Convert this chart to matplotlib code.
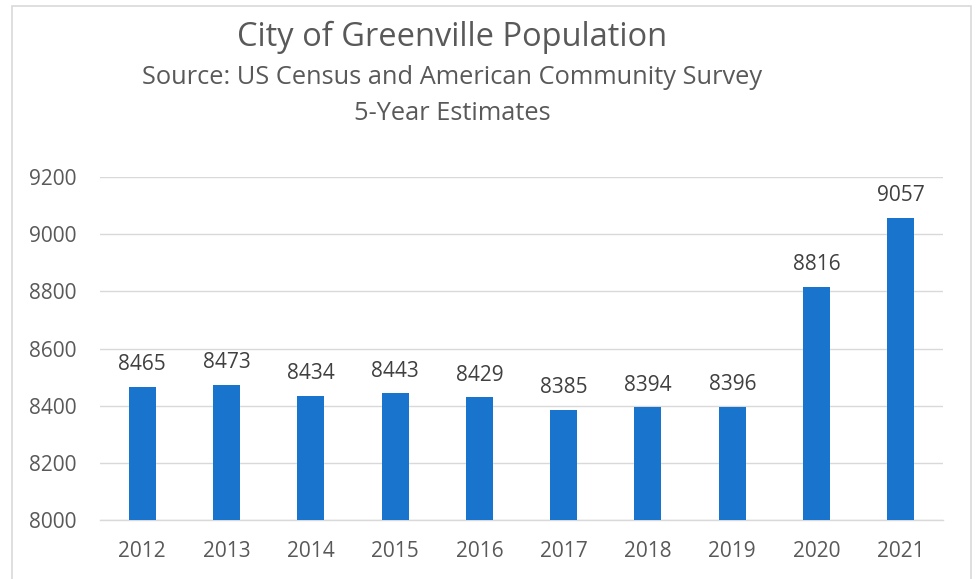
import matplotlib
matplotlib.use("Agg")
import matplotlib.pyplot as plt
from matplotlib.patches import Rectangle

years = ["2012", "2013", "2014", "2015", "2016", "2017", "2018", "2019", "2020", "2021"]
population = [8465, 8473, 8434, 8443, 8429, 8385, 8394, 8396, 8816, 9057]
yticks = [8000, 8200, 8400, 8600, 8800, 9000, 9200]

plt.rcParams['font.family'] = ['Open Sans', 'DejaVu Sans']
text_color = '#595959'
bar_color = '#1874CD'

W, H = 976, 579
fig = plt.figure(figsize=(W/100, H/100), dpi=100)
ax = fig.add_axes([100/W, 1-520/H, (943-100)/W, (520-177)/H])

x = list(range(len(years)))
bars = ax.bar(x, population, width=0.32, color=bar_color, zorder=3)
for xi, v in zip(x, population):
    ax.annotate(str(v), (xi, v), xytext=(0, 16), textcoords='offset points',
                ha='center', va='center', fontsize=15, color='#404040')

ax.set_xlim(-0.5, len(years)-0.5)
ax.set_ylim(8000, 9200)
ax.set_yticks(yticks)
ax.set_xticks(x)
ax.set_xticklabels(years)
ax.tick_params(axis='both', length=0, labelsize=15, labelcolor=text_color)
ax.tick_params(axis='y', pad=17)
ax.tick_params(axis='x', pad=15)
ax.grid(axis='y', color='#d9d9d9', linewidth=1, zorder=0)
for s in ['top', 'right', 'left']:
    ax.spines[s].set_visible(False)
ax.spines['bottom'].set_color('#d9d9d9')
ax.spines['bottom'].set_linewidth(1)

fig.text(452/W, 1-37/H, "City of Greenville Population", ha='center', va='center',
         fontsize=23.5, color=text_color)
fig.text(452/W, 1-77/H, "Source: US Census and American Community Survey", ha='center', va='center',
         fontsize=18.3, color=text_color)
fig.text(452/W, 1-113/H, "5-Year Estimates", ha='center', va='center',
         fontsize=18.3, color=text_color)

fig.patches.append(Rectangle((12/W, -0.05), (971-12)/W, 1-6/H+0.05, transform=fig.transFigure,
                             fill=False, edgecolor='#d9d9d9', linewidth=1.2))

fig.savefig("out.png", dpi=100)
